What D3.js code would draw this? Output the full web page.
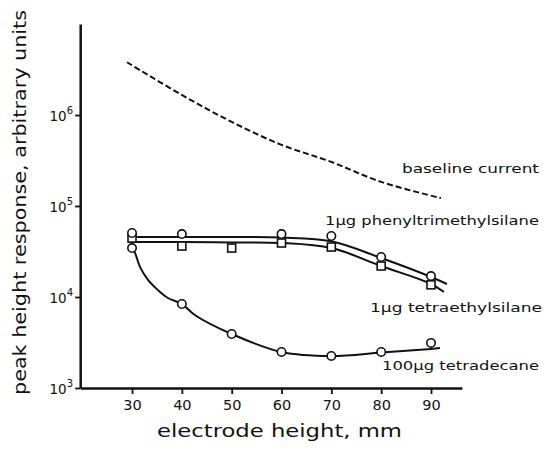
<!DOCTYPE html>
<html><head><meta charset="utf-8">
<script src="https://cdn.jsdelivr.net/npm/d3@7"></script>
<style>
body{margin:0;background:#fff;}
svg{display:block;}
text{font-family:"DejaVu Sans",sans-serif;fill:#111;}
</style></head>
<body><svg id="c" width="546" height="457"></svg>
<script>
// ---- data ----
const xTicks = [30,40,50,60,70,80,90];
const yTicks = [1e3,1e4,1e5,1e6];
const yTickExp = ["3","4","5","6"];

// baseline current (dashed)
const baselineX = [29,40,50,60,70,80,92];
const baselineY = [3.8e6,1.66e6,8.4e5,4.7e5,3.05e5,1.84e5,1.22e5];

// 1ug phenyltrimethylsilane markers (circles)
const phenylX = [30,40,60,70,80,90];
const phenylY = [50500,49200,49200,46800,27500,17000];
// its drawn curve
const phenylLineX = [29.5,40,50,60,70,80,90,93.2];
const phenylLineY = [45600,45600,45600,45000,41000,26800,16600,13900];

// 1ug tetraethylsilane markers (squares)
const tetraX = [30,40,50,60,70,80,90];
const tetraY = [44400,36300,34500,39200,35400,21900,13600];
const tetraLineX = [29.5,40,50,60,70,80,90,92.6];
const tetraLineY = [40200,40200,39800,39300,34500,21900,13900,11350];

// 100ug tetradecane markers (circles)
const decX = [30,40,50,60,70,80,90];
const decY = [34500,8380,3920,2490,2250,2490,3130];
const decLineX = [30,30.6,31.6,33.2,35.2,37.2,40,42.6,50,60,70,80,90,91.8];
const decLineY = [34500,30500,21400,15400,11900,9750,8380,6340,3920,2490,2250,2450,2690,2750];

const labels = ["baseline current","1\u00b5g phenyltrimethylsilane","1\u00b5g tetraethylsilane","100\u00b5g tetradecane"];
const xTitle = "electrode height, mm";
const yTitle = "peak height response, arbitrary units";

// ---- drawing ----
const svg = d3.select("#c");
const x = d3.scaleLinear().domain([19.6,96.2]).range([80.2,461.9]);
const y = d3.scaleLog().domain([1e3,1e7]).range([388,24]);

// axes
const gx = svg.append("g").attr("transform",`translate(0,${y(1e3)})`)
  .call(d3.axisBottom(x).tickValues(xTicks).tickSize(6).tickSizeOuter(0).tickFormat(d3.format("d")));
gx.select(".domain").attr("stroke","#111").attr("stroke-width",2.5);
gx.selectAll(".tick line").attr("stroke","#111").attr("stroke-width",1.8);
gx.selectAll(".tick text").attr("y",12).attr("font-size",14.5).attr("font-family","DejaVu Sans").attr("fill","#111");

const gy = svg.append("g").attr("transform",`translate(${x(19.6)},0)`)
  .call(d3.axisLeft(y).tickValues(yTicks).tickSize(5).tickSizeOuter(0).tickFormat(""));
gy.select(".domain").attr("stroke","#111").attr("stroke-width",2.5);
gy.selectAll(".tick line").attr("stroke","#111").attr("stroke-width",1.8);
yTicks.forEach((v,i)=>{
  const t = svg.append("text").attr("x",73).attr("y",y(v)+6).attr("text-anchor","end").attr("font-size",13.5);
  t.append("tspan").text("10");
  t.append("tspan").attr("dy",-7).attr("font-size",10).text(yTickExp[i]);
});

// lines
const line = d3.line().x(d=>x(d[0])).y(d=>y(d[1])).curve(d3.curveCatmullRom.alpha(0.5));
const zip = (a,b)=>a.map((v,i)=>[v,b[i]]);

svg.append("path").datum(zip(baselineX,baselineY)).attr("d",line)
  .attr("fill","none").attr("stroke","#111").attr("stroke-width",2).attr("stroke-dasharray","6,3");
[[phenylLineX,phenylLineY],[tetraLineX,tetraLineY],[decLineX,decLineY]].forEach(([a,b])=>{
  svg.append("path").datum(zip(a,b)).attr("d",line)
    .attr("fill","none").attr("stroke","#111").attr("stroke-width",2);
});

// markers
function circles(a,b){
  svg.append("g").selectAll("circle").data(zip(a,b)).join("circle")
    .attr("cx",d=>x(d[0])).attr("cy",d=>y(d[1])).attr("r",4.2)
    .attr("fill","#fff").attr("stroke","#111").attr("stroke-width",1.6);
}
function squares(a,b){
  svg.append("g").selectAll("rect").data(zip(a,b)).join("rect")
    .attr("x",d=>x(d[0])-4).attr("y",d=>y(d[1])-4).attr("width",8).attr("height",8)
    .attr("fill","#fff").attr("stroke","#111").attr("stroke-width",1.6);
}
squares(tetraX,tetraY);
circles(phenylX,phenylY);
circles(decX,decY);

// series labels
const labPos = [[402,173,137],[325,225,214],[370,312,172],[382,370,157]];
labels.forEach((s,i)=>{
  svg.append("text").attr("x",labPos[i][0]).attr("y",labPos[i][1])
    .attr("font-size",12.5).attr("textLength",labPos[i][2]).attr("lengthAdjust","spacingAndGlyphs").text(s);
});

// axis titles
svg.append("text").attr("x",157).attr("y",437).attr("font-size",17)
  .attr("textLength",245).attr("lengthAdjust","spacingAndGlyphs").text(xTitle);
svg.append("text").attr("transform","translate(26,395) rotate(-90)").attr("font-size",17.5)
  .attr("textLength",385).attr("lengthAdjust","spacingAndGlyphs").text(yTitle);
</script></body></html>
